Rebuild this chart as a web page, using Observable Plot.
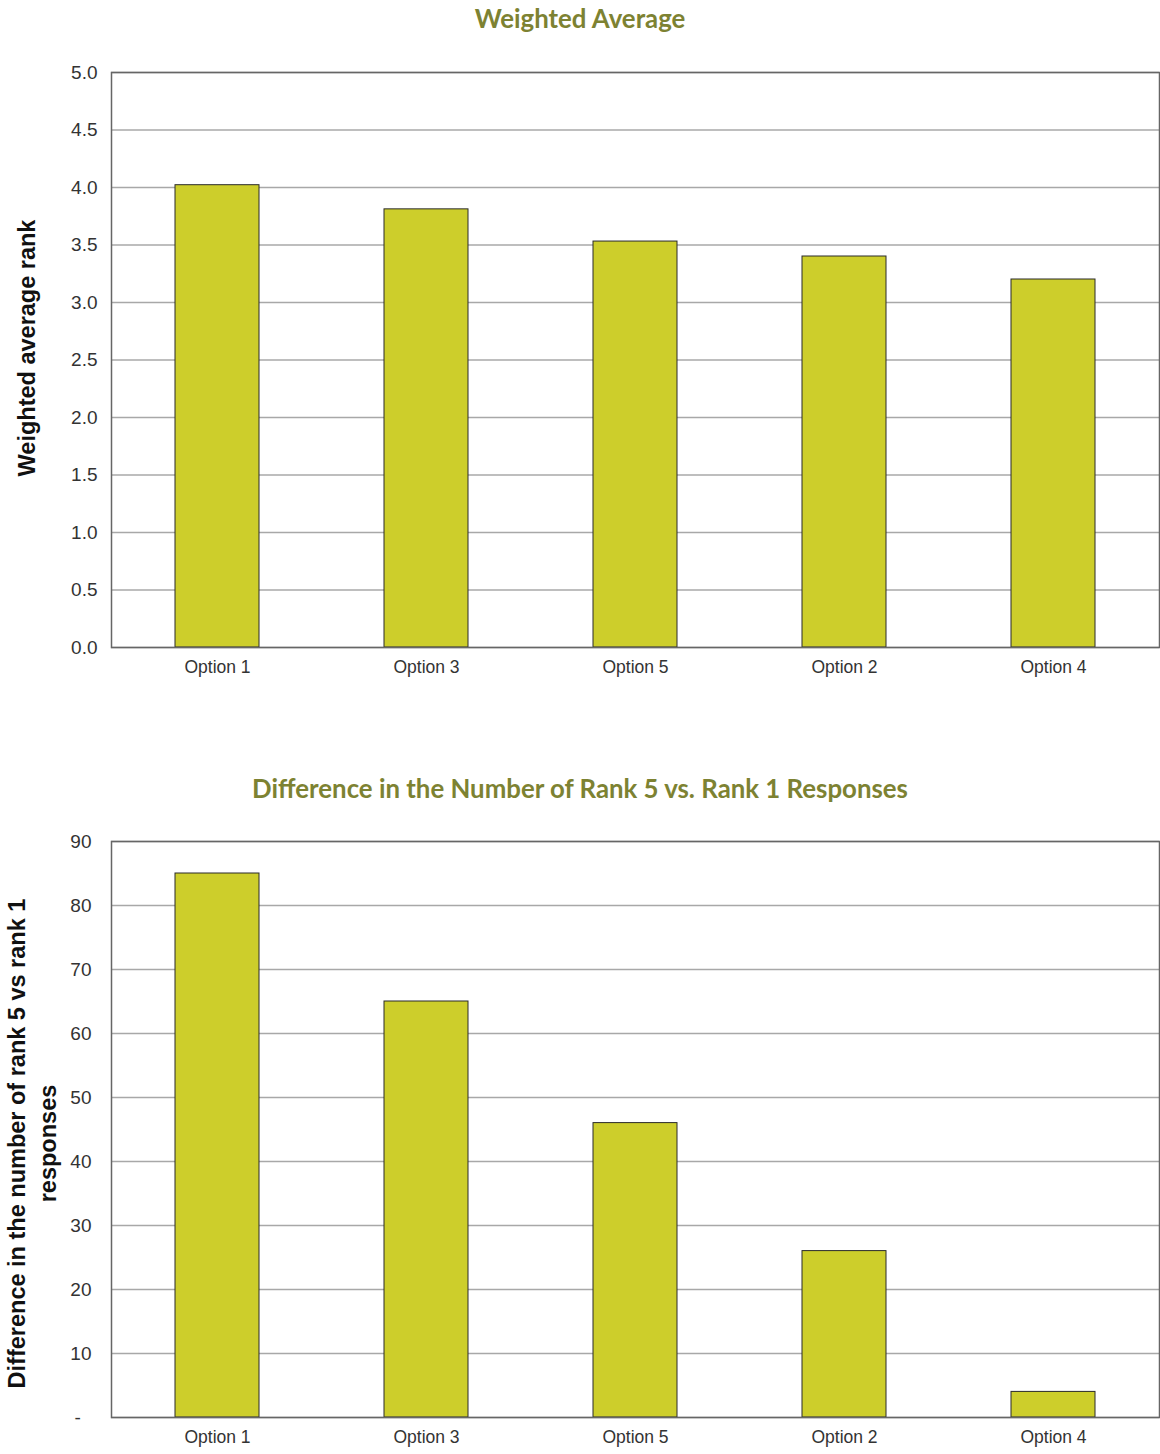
<!DOCTYPE html>
<html>
<head>
<meta charset="utf-8">
<script src="https://cdn.jsdelivr.net/npm/d3@7"></script>
<script src="https://cdn.jsdelivr.net/npm/@observablehq/plot@0.6"></script>
<style>
  html, body { margin: 0; padding: 0; background: #fff; }
  #root { position: relative; width: 1160px; height: 1454px; }
  .title { position: absolute; left: 0; width: 1160px; text-align: center; z-index: 2;
    font-family: Lato, "Open Sans", sans-serif; font-weight: bold; font-size: 25.8px; color: #7d8232; }
  .chart { position: absolute; left: 0; z-index: 1; }
</style>
</head>
<body>
<div id="root">
  <div class="title" id="t1" style="top:3px">Weighted Average</div>
  <div class="chart" id="c1" style="top:0px"></div>
  <div class="title" id="t2" style="top:773px">Difference in the Number of Rank 5 vs. Rank 1 Responses</div>
  <div class="chart" id="c2" style="top:720px"></div>
</div>
<script>
const options = ["Option 1", "Option 3", "Option 5", "Option 2", "Option 4"];
const weightedAverage = [4.02, 3.81, 3.53, 3.40, 3.20];
const rankDifference = [85, 65, 46, 26, 4];
const ticks1 = [0, 0.5, 1, 1.5, 2, 2.5, 3, 3.5, 4, 4.5, 5];
const ticks2 = [0, 10, 20, 30, 40, 50, 60, 70, 80, 90];
const label1 = "Weighted average rank";
const label2 = "Difference in the number of rank 5 vs rank 1\nresponses";

const barFill = "#cdce2b";
const tickFont = "'Liberation Sans', Arial, sans-serif";

function makeChart({values, ticks, domain, fmt, label, height, mt, mb, tickPad, labelDx, labelDy}) {
  const data = options.map((o, i) => ({option: o, value: values[i]}));
  return Plot.plot({
    width: 1160,
    height,
    marginLeft: 111,
    marginRight: 1,
    marginTop: mt,
    marginBottom: mb,
    style: {fontFamily: tickFont, fontSize: "17px", color: "#333", background: "transparent"},
    x: {domain: options, paddingInner: 0.6, paddingOuter: 0.3, label: null},
    y: {domain, ticks, label: null},
    marks: [
      Plot.gridY(ticks, {stroke: "#a8a8a8", strokeOpacity: 1, strokeWidth: 1.5}),
      Plot.barY(data, {x: "option", y: "value", fill: barFill, stroke: "#2a2a2a", strokeWidth: 1}),
      Plot.frame({stroke: "#666", strokeWidth: 1.5}),
      Plot.axisY(ticks, {tickSize: 0, tickPadding: tickPad, tickFormat: fmt, fill: "#333", fontSize: 19, label: null}),
      Plot.axisX({tickSize: 0, tickPadding: 13, fill: "#333", fontSize: 17.5, label: null}),
      Plot.text([label], {text: d => d, frameAnchor: "left", rotate: -90, dx: labelDx, dy: labelDy,
        fontFamily: "'Liberation Sans', Arial, sans-serif", fontWeight: "bold", fontSize: 23.5,
        lineHeight: 1.32, fill: "#111", textAnchor: "middle"})
    ]
  });
}

document.getElementById("c1").append(makeChart({
  values: weightedAverage, ticks: ticks1, domain: [0, 5], fmt: d3.format(".1f"),
  label: label1, height: 720, mt: 72, mb: 73, tickPad: 14, labelDx: -86, labelDy: -12
}));
document.getElementById("c2").append(makeChart({
  values: rankDifference, ticks: ticks2, domain: [0, 90], fmt: d => d === 0 ? "-  " : String(d),
  label: label2, height: 734, mt: 121, mb: 37, tickPad: 20, labelDx: -81, labelDy: 14
}));
</script>
</body>
</html>
